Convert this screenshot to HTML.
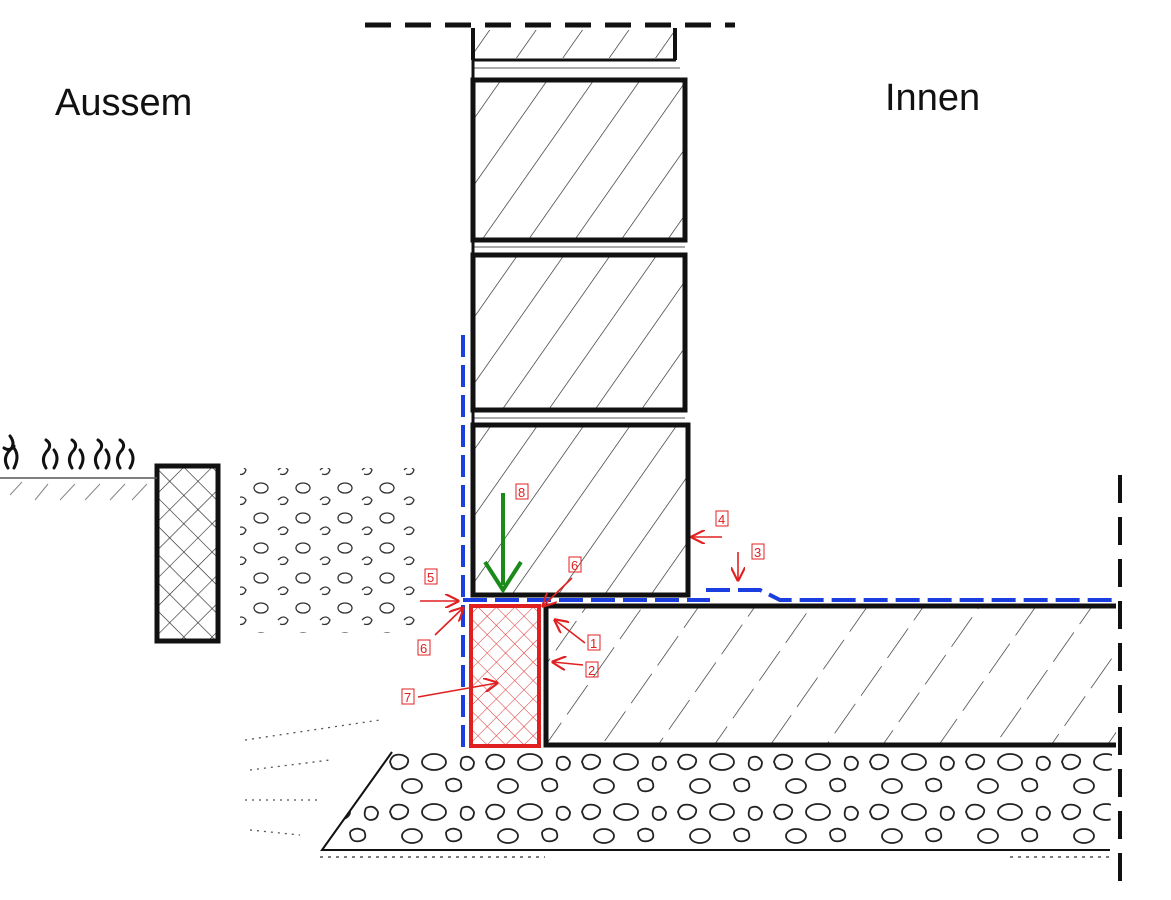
<!DOCTYPE html>
<html><head><meta charset="utf-8"><style>
html,body{margin:0;padding:0;background:#fff}
svg{display:block}
.lbl{font-family:"Liberation Sans",sans-serif;font-size:13px;fill:#e02020}
</style></head><body>
<svg width="1171" height="900" viewBox="0 0 1171 900" xmlns="http://www.w3.org/2000/svg">
<defs>
<pattern id="hatch" width="38" height="38" patternUnits="userSpaceOnUse" patternTransform="rotate(35)">
<line x1="0" y1="0" x2="0" y2="38" stroke="#222" stroke-width="1.3"/>
</pattern>
<pattern id="hatch2" width="46" height="46" patternUnits="userSpaceOnUse" patternTransform="rotate(35)">
<line x1="0" y1="0" x2="0" y2="46" stroke="#222" stroke-width="1.3" stroke-dasharray="30 10"/>
</pattern>
<pattern id="cross" width="20" height="20" patternUnits="userSpaceOnUse" patternTransform="rotate(45)">
<line x1="0" y1="0" x2="0" y2="20" stroke="#222" stroke-width="1.2"/>
<line x1="0" y1="0" x2="20" y2="0" stroke="#222" stroke-width="1.2"/>
</pattern>
<pattern id="crossr" width="13" height="13" patternUnits="userSpaceOnUse" patternTransform="rotate(45)">
<line x1="0" y1="0" x2="0" y2="13" stroke="#e03030" stroke-width="1"/>
<line x1="0" y1="0" x2="13" y2="0" stroke="#e03030" stroke-width="1"/>
</pattern>
<pattern id="peb" width="96" height="50" patternUnits="userSpaceOnUse">
<path d="M6 12 q2 -9 12 -7 q10 3 4 11 q-8 6 -14 1 z" fill="none" stroke="#222" stroke-width="1.8"/>
<ellipse cx="50" cy="12" rx="12" ry="8" fill="none" stroke="#222" stroke-width="1.8"/>
<path d="M78 8 q8 -4 12 4 q0 8 -8 8 q-8 -2 -4 -12" fill="none" stroke="#222" stroke-width="1.8"/>
<ellipse cx="28" cy="36" rx="10" ry="7" fill="none" stroke="#222" stroke-width="1.8"/>
<path d="M62 32 q6 -6 14 -1 q4 8 -4 10 q-10 2 -10 -9" fill="none" stroke="#222" stroke-width="1.8"/>
</pattern>
<pattern id="smallpeb" width="42" height="30" patternUnits="userSpaceOnUse">
<ellipse cx="9" cy="8" rx="7" ry="5" fill="none" stroke="#333" stroke-width="1.3"/>
<path d="M26 20 q6 -6 10 0 q-2 6 -8 4" fill="none" stroke="#333" stroke-width="1.3"/>
</pattern>
<marker id="ar" viewBox="0 0 10 10" refX="9" refY="5" markerWidth="9" markerHeight="9" orient="auto">
<path d="M0,0 L10,5 L0,10" fill="none" stroke="#e02020" stroke-width="1.5"/>
</marker>
</defs>

<line x1="365" y1="25" x2="735" y2="25" stroke="#111" stroke-width="5" stroke-dasharray="26 14"/>

<rect x="473" y="30" width="202" height="28" fill="url(#hatch)" stroke="none"/>
<path d="M473 28 L473 60 M675 28 L675 60" stroke="#111" stroke-width="4"/>
<line x1="473" y1="60" x2="676" y2="60" stroke="#111" stroke-width="3"/>
<line x1="473" y1="68" x2="680" y2="68" stroke="#555" stroke-width="1"/>
<rect x="473" y="80" width="212" height="160" fill="url(#hatch)" stroke="#111" stroke-width="5"/>
<line x1="473" y1="247" x2="685" y2="247" stroke="#555" stroke-width="1"/>
<rect x="473" y="255" width="212" height="155" fill="url(#hatch)" stroke="#111" stroke-width="5"/>
<line x1="473" y1="418" x2="685" y2="418" stroke="#555" stroke-width="1"/>
<rect x="473" y="425" width="215" height="170" fill="url(#hatch)" stroke="#111" stroke-width="5"/>
<line x1="473" y1="60" x2="473" y2="80" stroke="#111" stroke-width="3"/>
<line x1="473" y1="240" x2="473" y2="255" stroke="#111" stroke-width="3"/>
<line x1="473" y1="410" x2="473" y2="425" stroke="#111" stroke-width="3"/>

<rect x="546" y="606" width="570" height="139" fill="url(#hatch2)" stroke="none"/>
<path d="M546 606 L1116 606 M546 606 L546 745 L1116 745" fill="none" stroke="#111" stroke-width="5"/>

<rect x="471" y="606" width="68" height="140" fill="url(#crossr)" stroke="#e02020" stroke-width="4"/>

<path d="M392 752 L1112 752 L1110 850 L322 850 Z" fill="url(#peb)" stroke="none"/>
<path d="M392 752 L322 850 L1110 850" fill="none" stroke="#111" stroke-width="2"/>
<line x1="320" y1="857" x2="545" y2="857" stroke="#333" stroke-width="1.3" stroke-dasharray="3 5"/>
<line x1="1010" y1="857" x2="1110" y2="857" stroke="#333" stroke-width="1.3" stroke-dasharray="3 5"/>
<path d="M245 740 L380 720 M250 770 L330 760 M245 800 L320 800 M250 830 L300 835" stroke="#555" stroke-width="1.3" stroke-dasharray="2 5"/>

<line x1="1120" y1="475" x2="1120" y2="885" stroke="#111" stroke-width="4" stroke-dasharray="28 14"/>

<line x1="463" y1="335" x2="463" y2="748" stroke="#1a3ee0" stroke-width="4" stroke-dasharray="22 8"/>
<path d="M463 600 L710 600 M706 590 L760 590 L780 600 L1118 600" fill="none" stroke="#1a3ee0" stroke-width="4" stroke-dasharray="24 8"/>

<rect x="157" y="466" width="61" height="175" fill="url(#cross)" stroke="#111" stroke-width="5"/>
<line x1="0" y1="478" x2="157" y2="478" stroke="#555" stroke-width="1.5"/>
<path d="M10 495 L22 482 M35 500 L48 484 M60 500 L75 484 M85 500 L100 484 M110 500 L125 484 M132 500 L147 484" stroke="#888" stroke-width="1"/>
<g stroke="#111" stroke-width="3" fill="none" stroke-linecap="round">
<path d="M8 468 q-6 -10 2 -18 q6 -6 0 -14"/><path d="M14 468 q6 -12 0 -20"/><path d="M4 448 q6 4 10 -2"/>
<path d="M46 468 q-6 -10 2 -18 q4 -6 -2 -10"/><path d="M54 468 q6 -10 0 -18"/>
<path d="M72 468 q-6 -10 2 -18 q4 -6 -2 -10"/><path d="M80 468 q6 -10 0 -18"/>
<path d="M98 468 q-6 -10 2 -18 q4 -6 -2 -10"/><path d="M106 468 q6 -10 0 -18"/>
<path d="M120 468 q-6 -10 2 -18 q4 -6 -2 -10"/><path d="M130 468 q6 -10 0 -18"/>
</g>
<rect x="240" y="468" width="180" height="165" fill="url(#smallpeb)"/>

<text x="55" y="115" font-family="Liberation Sans,sans-serif" font-size="38" fill="#111">Aussem</text>
<text x="885" y="110" font-family="Liberation Sans,sans-serif" font-size="38" fill="#111">Innen</text>

<line x1="503" y1="493" x2="503" y2="585" stroke="#1a8a1a" stroke-width="4"/>
<path d="M485 562 L503 590 L521 562" fill="none" stroke="#1a8a1a" stroke-width="4"/>

<g stroke="#e02020" stroke-width="1.6" fill="none">
<line x1="722" y1="537" x2="692" y2="537" marker-end="url(#ar)"/>
<line x1="738" y1="552" x2="738" y2="580" marker-end="url(#ar)"/>
<line x1="420" y1="601" x2="458" y2="601" marker-end="url(#ar)"/>
<line x1="572" y1="578" x2="543" y2="606" marker-end="url(#ar)"/>
<line x1="435" y1="635" x2="463" y2="608" marker-end="url(#ar)"/>
<line x1="585" y1="643" x2="555" y2="620" marker-end="url(#ar)"/>
<line x1="583" y1="665" x2="553" y2="662" marker-end="url(#ar)"/>
<line x1="418" y1="697" x2="497" y2="683" marker-end="url(#ar)"/>
</g>
<g class="lbl">
<rect x="516" y="484" width="12" height="15" fill="none" stroke="#e02020"/><text x="518" y="497">8</text>
<rect x="716" y="511" width="12" height="15" fill="none" stroke="#e02020"/><text x="718" y="524">4</text>
<rect x="752" y="544" width="12" height="15" fill="none" stroke="#e02020"/><text x="754" y="557">3</text>
<rect x="425" y="569" width="12" height="15" fill="none" stroke="#e02020"/><text x="427" y="582">5</text>
<rect x="569" y="557" width="12" height="15" fill="none" stroke="#e02020"/><text x="571" y="570">6</text>
<rect x="418" y="640" width="12" height="15" fill="none" stroke="#e02020"/><text x="420" y="653">6</text>
<rect x="588" y="635" width="12" height="15" fill="none" stroke="#e02020"/><text x="590" y="648">1</text>
<rect x="586" y="662" width="12" height="15" fill="none" stroke="#e02020"/><text x="588" y="675">2</text>
<rect x="402" y="689" width="12" height="15" fill="none" stroke="#e02020"/><text x="404" y="702">7</text>
</g>
</svg>
</body></html>
